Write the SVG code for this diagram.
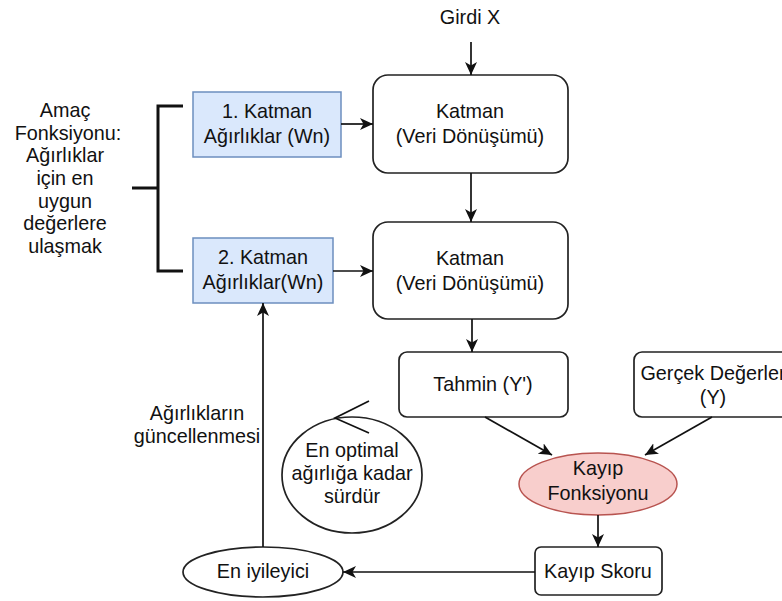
<svg xmlns="http://www.w3.org/2000/svg" width="782" height="601" viewBox="0 0 782 601">
  <style>
    text { font-family: "Liberation Sans", Arial, sans-serif; font-size: 19.8px; fill: #111; text-anchor: middle; }
    .box { fill: #ffffff; stroke: #222; stroke-width: 1.7; }
    .blue { fill: #dae8fc; stroke: #6c8ebf; stroke-width: 1.5; }
    .loss { fill: #f8cecc; stroke: #b85450; stroke-width: 1.5; }
    .edge { fill: none; stroke: #111; stroke-width: 1.7; }
    .brace { fill: none; stroke: #111; stroke-width: 3; }
  </style>
  <defs>
    <marker id="arrow" markerUnits="userSpaceOnUse" markerWidth="16" markerHeight="14" refX="13" refY="6" orient="auto">
      <path d="M0,0 L13,6 L0,12 L3.5,6 z" fill="#111"/>
    </marker>
  </defs>

  <rect width="782" height="601" fill="#ffffff"/>

  <!-- objective label with bracket -->
  <g id="objective">
    <text x="65" y="117">Amaç</text>
    <text x="68" y="140">Fonksiyonu:</text>
    <text x="65" y="162">Ağırlıklar</text>
    <text x="65" y="185">için en</text>
    <text x="65" y="208">uygun</text>
    <text x="65" y="230">değerlere</text>
    <text x="65" y="253">ulaşmak</text>
    <path class="brace" d="M183,106 H158 V271 H183 M132,188 H158"/>
  </g>

  <g id="input">
    <text x="470" y="24">Girdi X</text>
  </g>

  <g id="weights1">
    <rect class="blue" x="193" y="92" width="148" height="65"/>
    <text x="267" y="118">1. Katman</text>
    <text x="267" y="143">Ağırlıklar (Wn)</text>
  </g>

  <g id="weights2">
    <rect class="blue" x="193" y="238" width="140" height="65"/>
    <text x="263" y="264">2. Katman</text>
    <text x="263" y="289">Ağırlıklar(Wn)</text>
  </g>

  <g id="layer1">
    <rect class="box" x="373" y="75" width="195" height="98" rx="15"/>
    <text x="470" y="118">Katman</text>
    <text x="470" y="143">(Veri Dönüşümü)</text>
  </g>

  <g id="layer2">
    <rect class="box" x="373" y="222" width="195" height="97" rx="15"/>
    <text x="470" y="265">Katman</text>
    <text x="470" y="290">(Veri Dönüşümü)</text>
  </g>

  <g id="prediction">
    <rect class="box" x="399" y="352" width="169" height="65" rx="8"/>
    <text x="483" y="391">Tahmin (Y')</text>
  </g>

  <g id="truth">
    <rect class="box" x="634" y="352" width="160" height="65" rx="8"/>
    <text x="713" y="380">Gerçek Değerler</text>
    <text x="713" y="404">(Y)</text>
  </g>

  <g id="loss-function">
    <ellipse class="loss" cx="598" cy="484" rx="79" ry="31"/>
    <text x="598" y="475">Kayıp</text>
    <text x="598" y="500">Fonksiyonu</text>
  </g>

  <g id="loss-score">
    <rect class="box" x="535" y="547" width="127" height="48" rx="6"/>
    <text x="598" y="578">Kayıp Skoru</text>
  </g>

  <g id="optimizer">
    <ellipse class="box" cx="263" cy="572" rx="80" ry="25"/>
    <text x="263" y="578">En iyileyici</text>
  </g>

  <g id="repeat">
    <ellipse class="box" cx="352" cy="475" rx="70" ry="58"/>
    <path class="edge" d="M369,401 L335,418 L369,433"/>
    <text x="352" y="457">En optimal</text>
    <text x="352" y="480">ağırlığa kadar</text>
    <text x="352" y="503">sürdür</text>
  </g>

  <g id="update-label">
    <text x="197" y="420">Ağırlıkların</text>
    <text x="197" y="443">güncellenmesi</text>
  </g>

  <!-- connectors -->
  <g id="connectors">
    <path class="edge" d="M471,42 V75" marker-end="url(#arrow)"/>
    <path class="edge" d="M471,173 V222" marker-end="url(#arrow)"/>
    <path class="edge" d="M472,319 V352" marker-end="url(#arrow)"/>
    <path class="edge" d="M341,124 H373" marker-end="url(#arrow)"/>
    <path class="edge" d="M333,271 H373" marker-end="url(#arrow)"/>
    <path class="edge" d="M485,417 L552,455" marker-end="url(#arrow)"/>
    <path class="edge" d="M712,417 L645,455" marker-end="url(#arrow)"/>
    <path class="edge" d="M598,515 V547" marker-end="url(#arrow)"/>
    <path class="edge" d="M535,572 H343" marker-end="url(#arrow)"/>
    <path class="edge" d="M263,547 V303" marker-end="url(#arrow)"/>
  </g>
</svg>
